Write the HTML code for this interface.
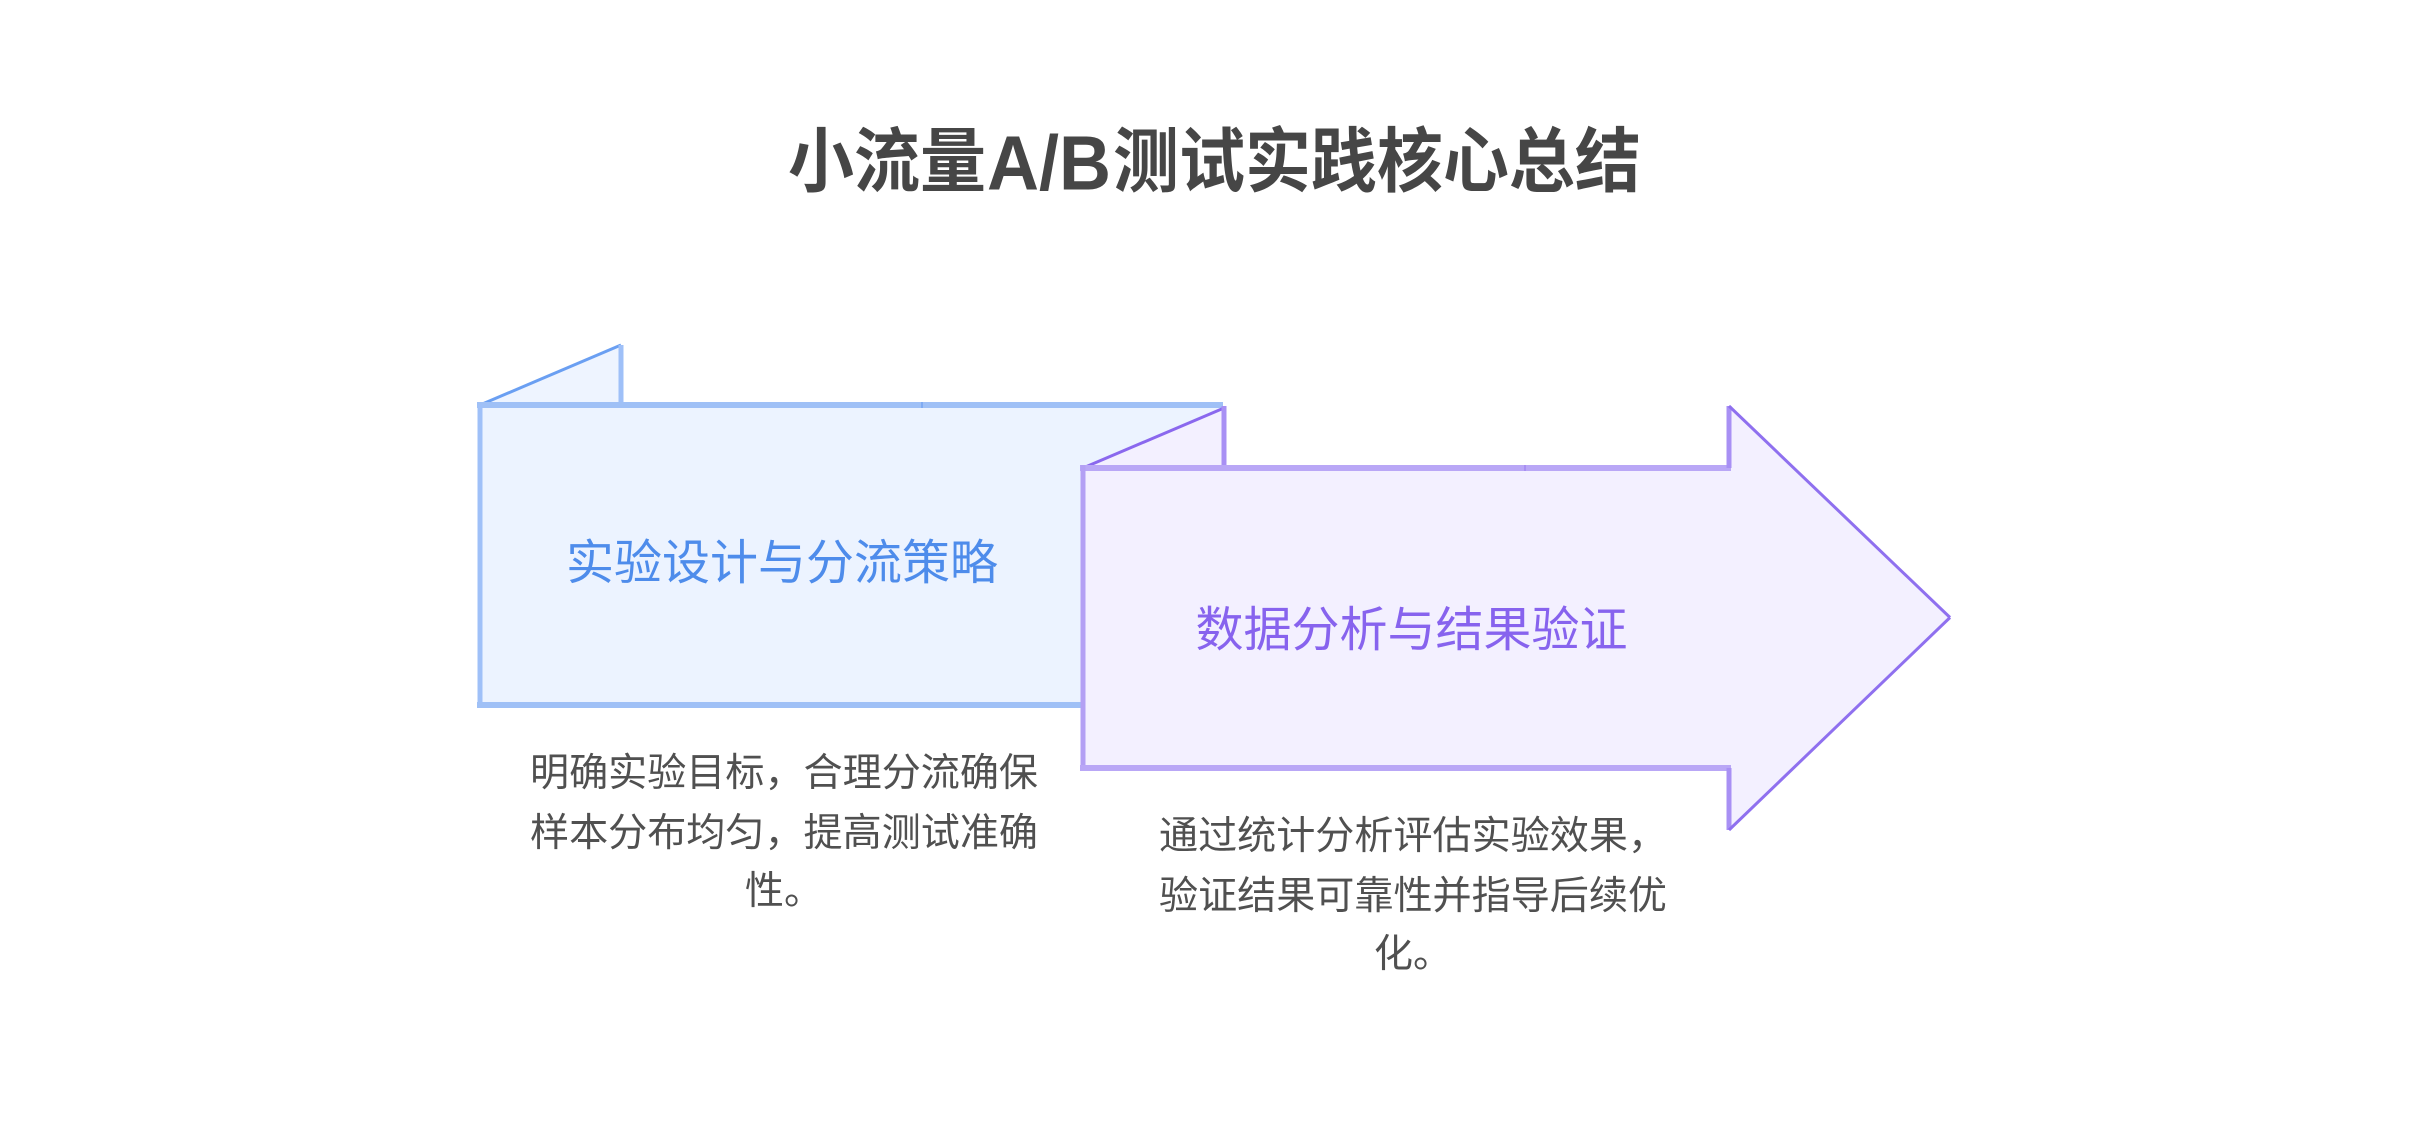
<!DOCTYPE html>
<html><head><meta charset="utf-8">
<style>
html,body{margin:0;padding:0;background:#fff;width:2430px;height:1140px;overflow:hidden}
svg{display:block}
text{font-family:"Liberation Sans","Noto Sans CJK SC",sans-serif}
.t{font-size:48px}
.d{font-size:39.1px;fill:#505050;text-anchor:middle}
</style></head>
<body>
<svg width="2430" height="1140" viewBox="0 0 2430 1140" xmlns="http://www.w3.org/2000/svg">
<rect width="2430" height="1140" fill="#fff"/>
<g transform="translate(0,186) scale(1,1.07)" font-weight="700" fill="#464646">
<text x="788" y="0" font-size="66">小流量</text>
<text x="987" y="3.5" font-size="72">A/B</text>
<text x="1113" y="0" font-size="66">测试实践核心总结</text>
</g>

<!-- blue -->
<polygon points="480,405 621,345 621,405" fill="#eef4ff"/>
<rect x="480" y="405" width="743" height="300" fill="#ecf3ff"/>
<g fill="none" stroke-linecap="butt">
<line x1="480" y1="405" x2="621" y2="345" stroke="#6a9ff2" stroke-width="3"/>
<line x1="621" y1="345" x2="621" y2="405" stroke="#9fc0f8" stroke-width="5"/>
<line x1="477" y1="405" x2="1223" y2="405" stroke="#9fc0f6" stroke-width="6"/>
<line x1="480" y1="405" x2="480" y2="708" stroke="#9fc0f8" stroke-width="5"/>
<line x1="477" y1="705" x2="1083" y2="705" stroke="#9fc0f6" stroke-width="6"/>
<line x1="922" y1="402" x2="922" y2="408" stroke="#7fabf3" stroke-width="2"/>
</g>
<text class="t" x="566" y="579" fill="#4e8ceb">实验设计与分流策略</text>

<!-- purple -->
<polygon points="1083,468 1224,408 1224,468" fill="#f3f0ff"/>
<polygon points="1083,468 1729,468 1729,408 1950,617.5 1729,828 1729,768 1083,768" fill="#f3f0ff"/>
<g fill="none">
<line x1="1083" y1="468" x2="1224" y2="408" stroke="#8a68ee" stroke-width="3"/>
<line x1="1224" y1="406" x2="1224" y2="471" stroke="#a890f4" stroke-width="5"/>
<line x1="1080" y1="468" x2="1731" y2="468" stroke="#b9a7f6" stroke-width="6"/>
<line x1="1083" y1="465" x2="1083" y2="771" stroke="#b3a0f4" stroke-width="5"/>
<line x1="1080" y1="768" x2="1731" y2="768" stroke="#b9a7f6" stroke-width="6"/>
<line x1="1729" y1="406" x2="1729" y2="468" stroke="#a890f4" stroke-width="5"/>
<line x1="1729" y1="768" x2="1729" y2="830" stroke="#a890f4" stroke-width="5"/>
<line x1="1729" y1="406" x2="1950" y2="617.5" stroke="#8f70ef" stroke-width="3"/>
<line x1="1950" y1="617.5" x2="1729" y2="830" stroke="#8f70ef" stroke-width="3"/>
<line x1="1525" y1="465" x2="1525" y2="471" stroke="#a88ff2" stroke-width="2"/>
</g>
<text class="t" x="1195.5" y="646" fill="#8763ee">数据分析与结果验证</text>

<!-- descriptions -->
<text class="d" x="784" y="786">明确实验目标，合理分流确保</text>
<text class="d" x="784" y="846">样本分布均匀，提高测试准确</text>
<text class="d" x="784" y="904">性。</text>
<text class="d" x="1413" y="849">通过统计分析评估实验效果，</text>
<text class="d" x="1413" y="909">验证结果可靠性并指导后续优</text>
<text class="d" x="1413" y="967">化。</text>
</svg>
</body></html>
